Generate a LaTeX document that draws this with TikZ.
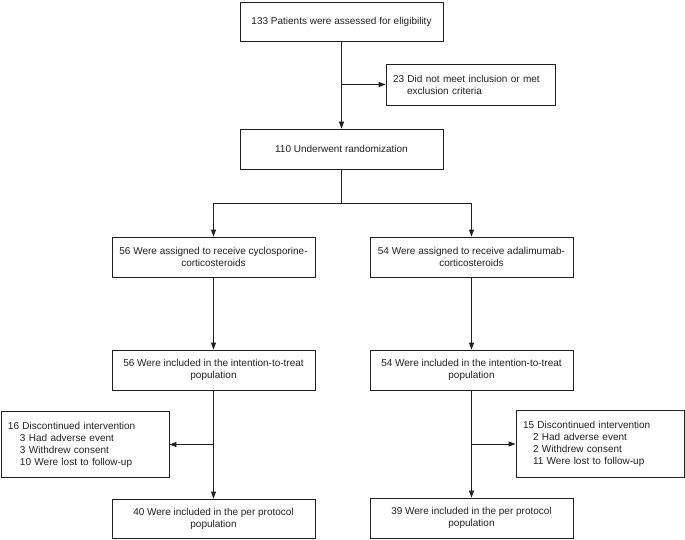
\documentclass[tikz,border=0pt]{standalone}
\usepackage{fontspec}
\setmainfont{Liberation Sans}
\usetikzlibrary{arrows.meta}
\definecolor{ink}{RGB}{35,31,32}
\begin{document}
\begin{tikzpicture}[x=1pt,y=-1pt,
  box/.style={draw=ink, line width=0.8pt, text=ink, font=\fontsize{10}{12}\selectfont, align=center, inner sep=0pt},
  wbox/.style={box, minimum width=203pt, minimum height=40pt},
  lbox/.style={box, align=left, inner xsep=7pt, text width=154pt, minimum height=66pt},
  arr/.style={draw=ink, line width=0.8pt, -{Triangle[length=7pt,width=5pt]}},
  ln/.style={draw=ink, line width=0.8pt}]
\useasboundingbox (0,0) rectangle (685,540);
\node[wbox, minimum height=39pt] (top) at (341.5,21.5) {133 Patients were assessed for eligibility};
\node[box, align=left, inner xsep=7pt, text width=155pt, minimum height=41pt] (excl) at (470.5,84.5) {23 Did not meet inclusion or met\\\hspace*{14pt}exclusion criteria};
\node[wbox] (rand) at (341.5,149) {110 Underwent randomization};
\node[wbox] (la) at (213.5,257) {56 Were assigned to receive cyclosporine-\\corticosteroids};
\node[wbox] (ra) at (471.5,257) {54 Were assigned to receive adalimumab-\\corticosteroids};
\node[wbox] (litt) at (213.5,370) {56 Were included in the intention-to-treat\\population};
\node[wbox] (ritt) at (471.5,370) {54 Were included in the intention-to-treat\\population};
\node[lbox] (ld) at (85,444.5) {16 Discontinued intervention\\\hspace*{12pt}3 Had adverse event\\\hspace*{12pt}3 Withdrew consent\\\hspace*{12pt}10 Were lost to follow-up};
\node[lbox, minimum height=67pt] (rd) at (600,444) {15 Discontinued intervention\\\hspace*{10pt}2 Had adverse event\\\hspace*{10pt}2 Withdrew consent\\\hspace*{10pt}11 Were lost to follow-up};
\node[wbox, minimum height=39pt] (lpp) at (213.5,518.5) {40 Were included in the per protocol\\population};
\node[wbox] (rpp) at (471.5,518) {39 Were included in the per protocol\\population};
\coordinate (split) at (341.5,203);
\draw[arr] (top.south) -- (rand.north);
\draw[arr] (top.south |- excl.west) -- (excl.west);
\draw[ln] (rand.south) -- (split);
\draw[arr] (split) -| (la.north);
\draw[arr] (split) -| (ra.north);
\draw[arr] (la.south) -- (litt.north);
\draw[arr] (ra.south) -- (ritt.north);
\draw[arr] (litt.south) -- (lpp.north);
\draw[arr] (ritt.south) -- (rpp.north);
\draw[arr] (litt.south |- ld.east) -- (ld.east);
\draw[arr] (ritt.south |- rd.west) -- (rd.west);
\end{tikzpicture}
\end{document}
